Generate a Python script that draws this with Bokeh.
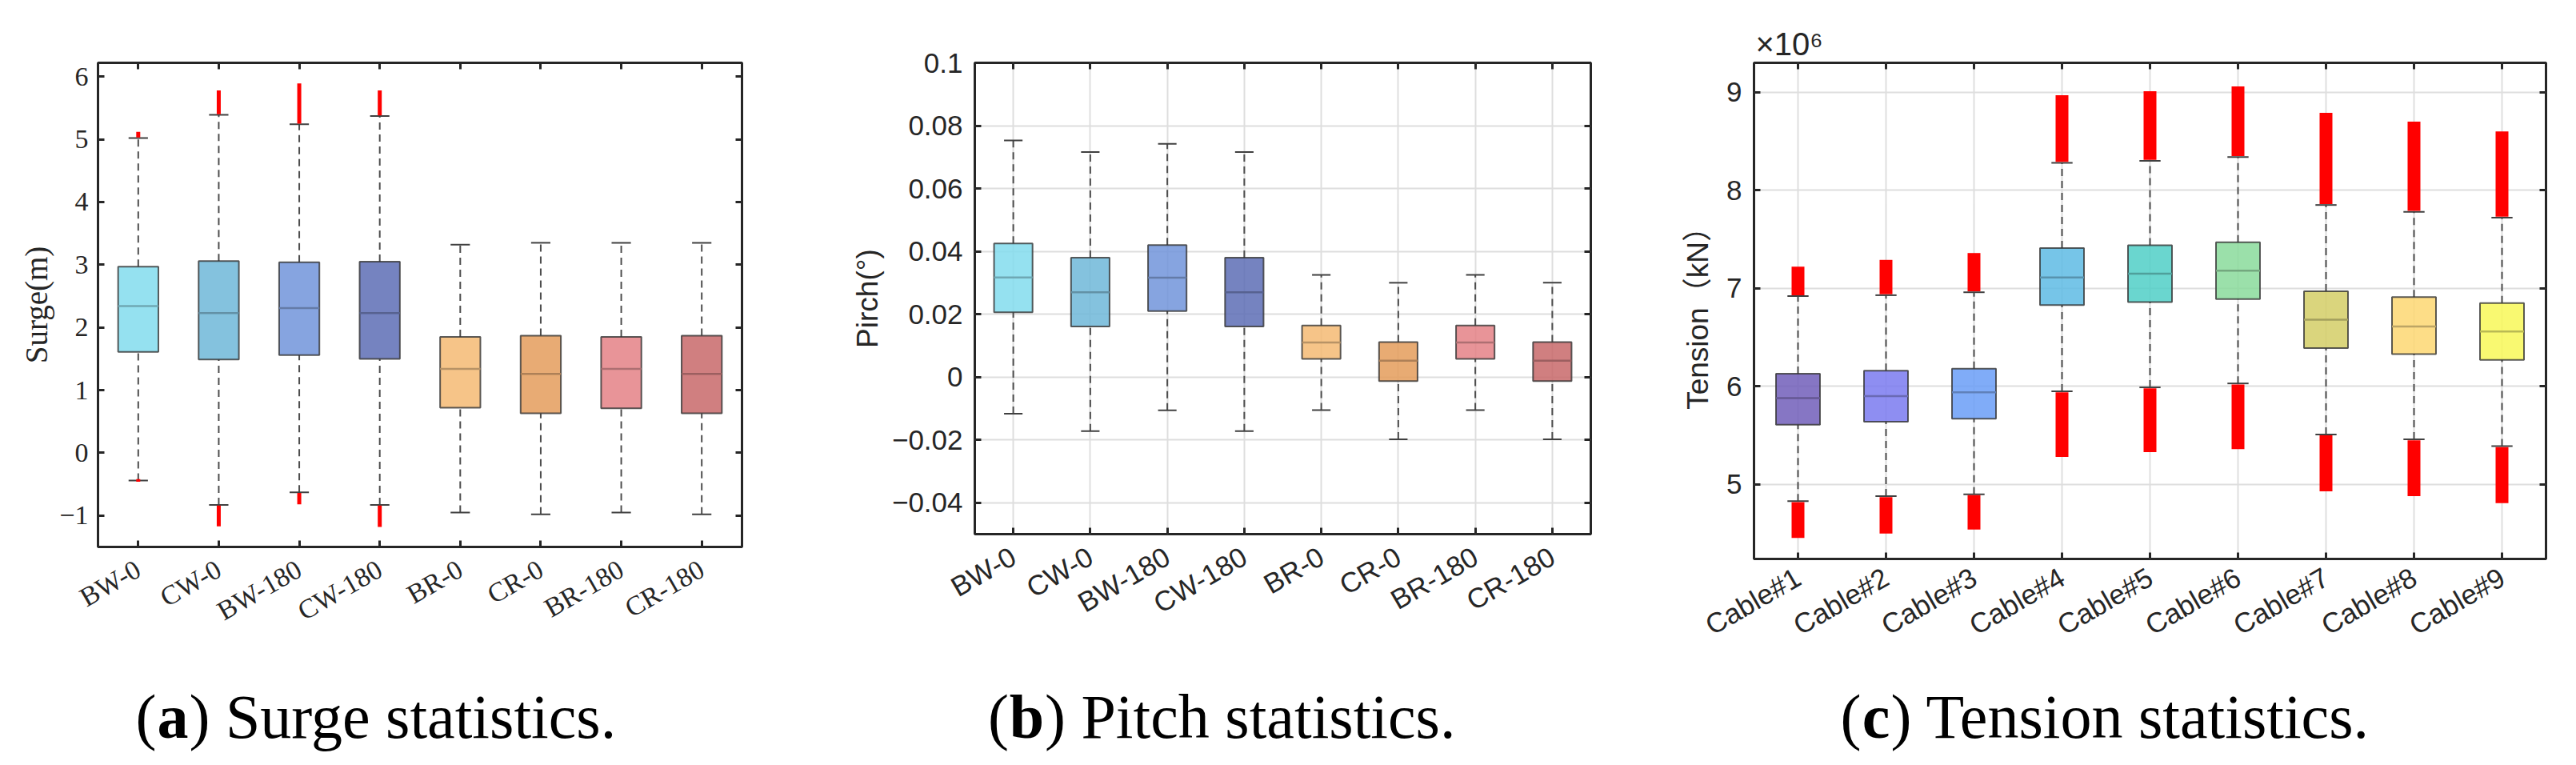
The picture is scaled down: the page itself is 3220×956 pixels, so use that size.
import math
from bokeh.plotting import figure
from bokeh.models import (ColumnDataSource, FixedTicker, LinearAxis, Range1d, Title,
                          CustomJSTickFormatter)
from bokeh.layouts import row, column
from bokeh.core.properties import value
from bokeh.embed import file_html
from bokeh.resources import INLINE

# ---------------- data: (a) surge ----------------
SURGE_CASES = ["BW-0", "CW-0", "BW-180", "CW-180", "BR-0", "CR-0", "BR-180", "CR-180"]
SURGE_Q1 = [1.61, 1.49, 1.56, 1.50, 0.72, 0.63, 0.71, 0.63]
SURGE_MEDIAN = [2.34, 2.23, 2.31, 2.23, 1.34, 1.26, 1.34, 1.26]
SURGE_Q3 = [2.97, 3.06, 3.04, 3.05, 1.85, 1.87, 1.85, 1.87]
SURGE_WHISKER_LO = [-0.44, -0.83, -0.63, -0.83, -0.95, -0.98, -0.95, -0.98]
SURGE_WHISKER_HI = [5.02, 5.39, 5.24, 5.37, 3.32, 3.35, 3.35, 3.35]
SURGE_OUTLIERS_HI = [(5.03, 5.12), (5.40, 5.78), (5.25, 5.89), (5.38, 5.78), None, None, None, None]
SURGE_OUTLIERS_LO = [(-0.42, -0.46), (-0.84, -1.17), (-0.64, -0.82), (-0.84, -1.18), None, None, None, None]
SURGE_TICKS = [-1, 0, 1, 2, 3, 4, 5, 6]
SURGE_YLIM = (-1.5, 6.22)

# ---------------- data: (b) pitch ----------------
PITCH_CASES = ["BW-0", "CW-0", "BW-180", "CW-180", "BR-0", "CR-0", "BR-180", "CR-180"]
PITCH_Q1 = [0.0206, 0.0161, 0.0210, 0.0161, 0.0058, -0.0013, 0.0058, -0.0013]
PITCH_MEDIAN = [0.0317, 0.0270, 0.0316, 0.0270, 0.0110, 0.0052, 0.0110, 0.0052]
PITCH_Q3 = [0.0425, 0.0380, 0.0420, 0.0380, 0.0164, 0.0111, 0.0164, 0.0111]
PITCH_WHISKER_LO = [-0.0117, -0.0172, -0.0106, -0.0172, -0.0105, -0.0198, -0.0105, -0.0198]
PITCH_WHISKER_HI = [0.0753, 0.0716, 0.0742, 0.0716, 0.0325, 0.0300, 0.0325, 0.0300]
PITCH_OUTLIERS_HI = [None] * 8
PITCH_OUTLIERS_LO = [None] * 8
PITCH_TICKS = [-0.04, -0.02, 0, 0.02, 0.04, 0.06, 0.08, 0.1]
PITCH_YLIM = (-0.05, 0.1)

# ---------------- data: (c) tension (values in units of 10^6) ----------------
CABLES = ["Cable#1", "Cable#2", "Cable#3", "Cable#4", "Cable#5", "Cable#6", "Cable#7", "Cable#8", "Cable#9"]
TENSION_Q1 = [5.61, 5.64, 5.67, 6.83, 6.86, 6.89, 6.39, 6.33, 6.27]
TENSION_MEDIAN = [5.88, 5.90, 5.94, 7.11, 7.15, 7.18, 6.68, 6.61, 6.56]
TENSION_Q3 = [6.13, 6.16, 6.18, 7.41, 7.44, 7.47, 6.97, 6.91, 6.85]
TENSION_WHISKER_LO = [4.83, 4.88, 4.90, 5.95, 5.99, 6.03, 5.51, 5.46, 5.39]
TENSION_WHISKER_HI = [6.92, 6.93, 6.96, 8.28, 8.30, 8.34, 7.85, 7.78, 7.72]
TENSION_OUTLIERS_HI = [(6.93, 7.22), (6.94, 7.29), (6.97, 7.36), (8.29, 8.97), (8.31, 9.01),
                       (8.35, 9.06), (7.86, 8.79), (7.79, 8.70), (7.73, 8.60)]
TENSION_OUTLIERS_LO = [(4.82, 4.455), (4.87, 4.50), (4.89, 4.54), (5.94, 5.28), (5.98, 5.33),
                       (6.02, 5.36), (5.50, 4.93), (5.45, 4.88), (5.38, 4.81)]
TENSION_TICKS = [5, 6, 7, 8, 9]
TENSION_YLIM = (4.24, 9.3)
TENSION_EXPONENT = "×10⁶"

# ---------------- captions ----------------
CAPTION_LETTERS = ["a", "b", "c"]
CAPTION_TEXTS = [") Surge statistics.", ") Pitch statistics.", ") Tension statistics."]

# ---------------- styles ----------------
CASE_COLORS = ["#95E1F0", "#84C2DE", "#86A4E0", "#7583C0", "#F6C488", "#E8AB74", "#E89498", "#D07F80"]
CABLE_COLORS = ["#8676C4", "#8E8EF2", "#80ACF8", "#76C5E8", "#6AD6CF", "#9BE0AA", "#DAD57D", "#FDDD87", "#F9F971"]
AX_COLOR = "#262626"


def _rgb(c):
    c = c.lstrip("#")
    return [int(c[i:i + 2], 16) for i in (0, 2, 4)]


def darken(c, f=0.75):
    return "#%02x%02x%02x" % tuple(int(v * f) for v in _rgb(c))


def base_for(c, a):
    """Solid colour that, drawn with alpha a over white, gives the observed colour c."""
    return "#%02x%02x%02x" % tuple(max(0, min(255, int(round((v - (1 - a) * 255) / a)))) for v in _rgb(c))


TICK_FMT = """
const s = String(Number(tick.toFixed(6)));
return s.replace('-', '\u2212');
"""


def box_panel(cats, q1, med, q3, wlo, whi, out_hi, out_lo, colors, ticks, ylim, *,
              font, tick_size, label, label_font, label_size, grid, frame,
              borders, out_width, x_standoff, y_standoff, label_standoff):
    n = len(cats)
    xs = list(range(1, n + 1))
    left, right, top, bottom = borders
    p = figure(frame_width=frame[0], frame_height=frame[1], x_range=Range1d(0.5, n + 0.5),
               y_range=Range1d(*ylim), output_backend="svg", toolbar_location=None,
               min_border_left=left, min_border_right=right, min_border_top=top,
               min_border_bottom=bottom, background_fill_color="white",
               border_fill_color="white", title=None)
    p.outline_line_color = AX_COLOR
    p.outline_line_width = 3
    p.outline_line_alpha = 1

    alpha = 0.85 if grid else 1.0
    src = ColumnDataSource(dict(
        x=xs, left=[x - 0.25 for x in xs], right=[x + 0.25 for x in xs],
        cl=[x - 0.12 for x in xs], cr=[x + 0.12 for x in xs],
        q1=q1, q3=q3, med=med, wlo=wlo, whi=whi,
        fill=[base_for(c, alpha) for c in colors], mcol=[darken(c) for c in colors]))

    p.segment("x", "q3", "x", "whi", source=src, line_color="#4d4d4d", line_width=2, line_dash="9 6")
    p.segment("x", "wlo", "x", "q1", source=src, line_color="#4d4d4d", line_width=2, line_dash="9 6")
    p.quad(left="left", right="right", bottom="q1", top="q3", source=src, fill_color="fill",
           fill_alpha=alpha, line_color="#333333", line_alpha=0.8, line_width=2)
    p.segment("left", "med", "right", "med", source=src, line_color="mcol", line_width=2.5)
    p.segment("cl", "whi", "cr", "whi", source=src, line_color="#404040", line_width=2)
    p.segment("cl", "wlo", "cr", "wlo", source=src, line_color="#404040", line_width=2)

    ox, oy0, oy1 = [], [], []
    for x, band in list(zip(xs, out_hi)) + list(zip(xs, out_lo)):
        if band is not None:
            ox.append(x)
            oy0.append(band[0])
            oy1.append(band[1])
    if ox:
        osrc = ColumnDataSource(dict(x=ox, y0=oy0, y1=oy1))
        p.segment("x", "y0", "x", "y1", source=osrc, line_color="#ff0000",
                  line_width=out_width, line_cap="butt")

    xa = p.xaxis[0]
    xa.ticker = FixedTicker(ticks=xs)
    xa.major_label_overrides = {x: c for x, c in zip(xs, cats)}
    xa.major_label_orientation = math.pi / 6
    xa.major_label_standoff = x_standoff
    ya = p.yaxis[0]
    ya.ticker = FixedTicker(ticks=ticks)
    ya.formatter = CustomJSTickFormatter(code=TICK_FMT)
    ya.major_label_standoff = y_standoff
    ya.axis_label = label
    ya.axis_label_standoff = label_standoff
    ya.axis_label_text_font = label_font
    ya.axis_label_text_font_size = label_size
    ya.axis_label_text_font_style = "normal"
    ya.axis_label_text_color = AX_COLOR

    xt = LinearAxis(ticker=FixedTicker(ticks=xs), formatter=CustomJSTickFormatter(code="return ''"))
    yt = LinearAxis(ticker=FixedTicker(ticks=ticks), formatter=CustomJSTickFormatter(code="return ''"))
    p.add_layout(xt, "above")
    p.add_layout(yt, "right")
    for ax in (xa, ya, xt, yt):
        ax.axis_line_color = None
        ax.major_tick_in = 8
        ax.major_tick_out = 0
        ax.major_tick_line_color = AX_COLOR
        ax.major_tick_line_width = 3
        ax.minor_tick_line_color = None
        ax.major_label_text_font = font
        ax.major_label_text_font_size = tick_size
        ax.major_label_text_color = AX_COLOR
    for ax in (xt, yt):
        ax.major_label_standoff = 0
        ax.major_label_text_font_size = "1px"

    if grid:
        p.xgrid.ticker = FixedTicker(ticks=xs)
        p.ygrid.ticker = FixedTicker(ticks=ticks)
        p.grid.grid_line_color = "#dedede"
        p.grid.grid_line_width = 2
    else:
        p.grid.visible = False
    return p


pa = box_panel(SURGE_CASES, SURGE_Q1, SURGE_MEDIAN, SURGE_Q3, SURGE_WHISKER_LO, SURGE_WHISKER_HI,
               SURGE_OUTLIERS_HI, SURGE_OUTLIERS_LO, CASE_COLORS, SURGE_TICKS, SURGE_YLIM,
               font="Liberation Serif", tick_size="34px", label="Surge(m)",
               label_font="Liberation Serif", label_size="39px", grid=False,
               frame=(805, 605), borders=(122, 105, 66, 159), out_width=5,
               x_standoff=25, y_standoff=12, label_standoff=4)

pb = box_panel(PITCH_CASES, PITCH_Q1, PITCH_MEDIAN, PITCH_Q3, PITCH_WHISKER_LO, PITCH_WHISKER_HI,
               PITCH_OUTLIERS_HI, PITCH_OUTLIERS_LO, CASE_COLORS, PITCH_TICKS, PITCH_YLIM,
               font="Liberation Sans", tick_size="35px", label="Pirch(°)",
               label_font="Liberation Sans", label_size="37px", grid=True,
               frame=(770, 589), borders=(186, 104, 72, 169), out_width=5,
               x_standoff=25, y_standoff=15, label_standoff=7)

pc = box_panel(CABLES, TENSION_Q1, TENSION_MEDIAN, TENSION_Q3, TENSION_WHISKER_LO, TENSION_WHISKER_HI,
               TENSION_OUTLIERS_HI, TENSION_OUTLIERS_LO, CABLE_COLORS, TENSION_TICKS, TENSION_YLIM,
               font="Liberation Sans", tick_size="35px", label="Tension（kN）",
               label_font="Liberation Sans, Noto Sans CJK SC", label_size="37px", grid=True,
               frame=(990, 620), borders=(100, 22, 78, 132), out_width=16,
               x_standoff=20, y_standoff=15, label_standoff=12)
pc.add_layout(Title(text=TENSION_EXPONENT, align="left", offset=2, standoff=4,
                    text_font="Liberation Sans", text_font_size="40px",
                    text_font_style="normal", text_color=AX_COLOR), "above")

# ---------------- captions strip ----------------
CAP_W, CAP_H = 3204, 110
cap = figure(width=CAP_W, height=CAP_H, x_range=Range1d(0, CAP_W), y_range=Range1d(0, CAP_H),
             output_backend="svg", toolbar_location=None, min_border=0,
             outline_line_color=None, title=None)
cap.axis.visible = False
cap.grid.visible = False
letter_x = [215.5, 1283, 2344.5]      # centre of the bold letter in each caption
letter_w = [39, 43, 35]
base_y = [45, 45, 45]
cap.text(x=[x - w / 2 - 1 for x, w in zip(letter_x, letter_w)], y=base_y, text=["("] * 3,
         text_font=value("Liberation Serif"), text_font_size="78px", text_align="right",
         text_baseline="alphabetic", text_color="black")
cap.text(x=letter_x, y=base_y, text=CAPTION_LETTERS,
         text_font=value("Liberation Serif"), text_font_size="78px", text_align="center",
         text_baseline="alphabetic", text_font_style="bold", text_color="black")
cap.text(x=[x + w / 2 + 1 for x, w in zip(letter_x, letter_w)], y=base_y, text=CAPTION_TEXTS,
         text_font=value("Liberation Serif"), text_font_size="78px", text_align="left",
         text_baseline="alphabetic", text_color="black")

layout = column(row(pa, pb, pc), cap)
open("out.html", "w").write(file_html(layout, INLINE))
